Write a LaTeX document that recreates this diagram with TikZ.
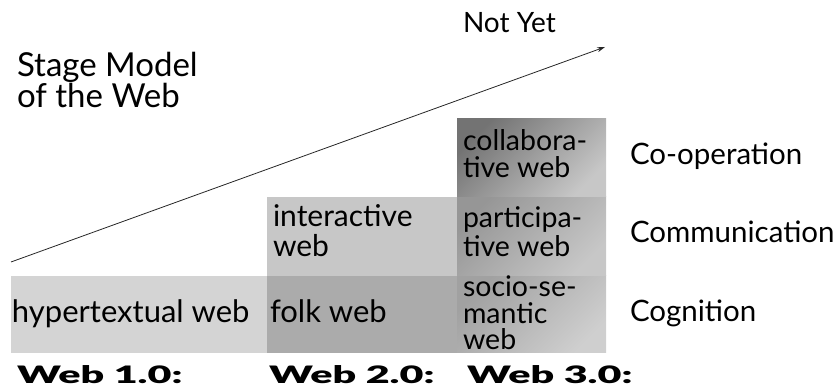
\documentclass[tikz,border=0pt]{standalone}
\usepackage{fontspec}
\setmainfont{Lato}
\newfontfamily\heavyfont{Lato Black}[FakeStretch=1.72]
\usetikzlibrary{arrows.meta}
\tikzset{
  cell/.style={draw=none, inner sep=0pt, outer sep=0pt, anchor=north west},
  grad/.style 2 args={cell, top color=#1, bottom color=#2, shading angle=45},
  txt/.style={inner sep=0pt, outer sep=0pt, anchor=base west, align=left, text=black},
  big/.style={txt, font=\fontsize{31}{31}\selectfont},
  mid/.style={txt, font=\fontsize{30}{30}\selectfont},
  small/.style={txt, font=\fontsize{28.5}{27.5}\selectfont},
  side/.style={txt, font=\fontsize{29.5}{30}\selectfont},
  stage/.style={txt, font=\heavyfont\fontsize{24}{24}\selectfont},
}
\begin{document}
\begin{tikzpicture}[x=1pt,y=1pt]
\useasboundingbox (0,0) rectangle (840,390);
% boxes
\node[cell, fill=black!17, minimum width=256pt, minimum height=77pt] (b1) at (11,114) {};
\node[cell, fill=black!33, minimum width=190pt, minimum height=77pt] (b2) at (267,114) {};
\node[cell, fill=black!22, minimum width=190pt, minimum height=79pt] (b3) at (267,193) {};
\node[grad={black!37}{black!19}, minimum width=149pt, minimum height=77pt] (b4) at (457,114) {};
\node[grad={black!41}{black!22}, minimum width=149pt, minimum height=79pt] (b5) at (457,193) {};
\node[grad={black!55}{black!22}, minimum width=149pt, minimum height=78pt] (b6) at (457,271) {};
% texts (anchor = baseline of the last line)
\node[big] (t1) at (12,67) {hypertextual web};
\node[big] (t2) at (270,67) {folk web};
\node[mid] (t3) at (273,133) {interactive\\web};
\node[small, font=\fontsize{28.5}{26.5}\selectfont] (t4) at (463,40) {socio-se-\\mantic\\web};
\node[small, font=\fontsize{28.5}{29}\selectfont] (t5) at (463,133) {participa-\\tive web};
\node[small] (t6) at (463,212) {collabora-\\tive web};
\node[txt, font=\fontsize{33}{31}\selectfont] (title) at (17,282) {Stage Model\\of the Web};
\node[txt, font=\fontsize{28}{28}\selectfont] (ny) at (463,357) {Not Yet};
\node[side] (r1) at (630,225) {Co-operation};
\node[side] (r2) at (630,147) {Communication};
\node[side] (r3) at (630,68) {Cognition};
\node[stage] (w1) at (17,6) {Web 1.0:};
\node[stage] (w2) at (269,6) {Web 2.0:};
\node[stage] (w3) at (467,6) {Web 3.0:};
% arrow
\coordinate (as) at (11,128);
\coordinate (ae) at (605,343);
\draw[line width=0.8pt, black!85, -{Stealth[length=8pt,width=5pt]}] (as) -- (ae);
\end{tikzpicture}
\end{document}
